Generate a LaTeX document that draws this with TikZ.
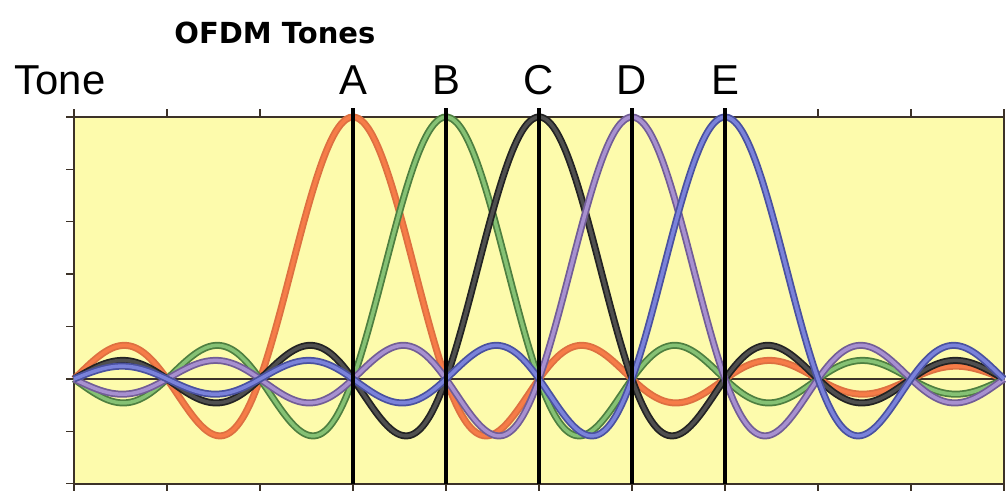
\documentclass[tikz,border=0pt]{standalone}
\usepackage{fontspec}
\setmainfont{Liberation Sans}
\newfontfamily\titlefont{DejaVu Sans}
\usepackage{xcolor}
\usetikzlibrary{positioning}

\definecolor{plotbg}{RGB}{253,251,172}
\definecolor{axisgray}{RGB}{60,50,40}
\definecolor{toneorange}{RGB}{246,124,72}
\definecolor{tonegreen}{RGB}{112,182,92}
\definecolor{toneblack}{RGB}{35,35,35}
\definecolor{tonepurple}{RGB}{152,124,200}
\definecolor{toneblue}{RGB}{98,108,212}

\tikzset{
  tonecurve/.style={line width=1pt, double distance=2pt, smooth, samples=200, domain=0:10},
  markerline/.style={line width=2.8pt, black},
  lettertext/.style={font=\fontsize{23.8}{28}\selectfont, inner sep=0pt}
}

\begin{document}
\begin{tikzpicture}[x=1.86cm, y=5.24cm]
    \useasboundingbox (-1.48cm,-2.24cm) rectangle (18.64cm,7.58cm);

    % Sfondo e cornice
    \fill[plotbg] (0,-0.4) rectangle (10.01,1);
    \draw[axisgray, line width=0.9pt] (0,-0.4) rectangle (10,1);
    \draw[axisgray, line width=1.1pt] (0,0) -- (10,0);

    % Tacche
    \foreach \k in {0,...,10} {
        \draw[axisgray, line width=0.8pt] (\k,1) -- (\k,1.03);
        \draw[axisgray, line width=0.8pt] (\k,-0.4) -- (\k,-0.428);
    }
    \foreach \v in {-0.4,-0.2,...,1.0} {
        \draw[axisgray, line width=0.8pt] (0,\v) -- (-0.09,\v);
    }

    % Curve dei toni
    \draw[tonecurve, draw=toneorange!90!black, double=toneorange] plot (\x, {sin(180*(\x-3))/(pi*(\x-3))});
    \draw[tonecurve, draw=tonegreen!70!black, double=tonegreen!85!white] plot (\x, {sin(180*(\x-4))/(pi*(\x-4))});
    \draw[tonecurve, draw=toneblack, double=toneblack!80!white] plot (\x, {sin(180*(\x-5))/(pi*(\x-5))});
    \draw[tonecurve, draw=tonepurple!75!black, double=tonepurple!85!white] plot (\x, {sin(180*(\x-6))/(pi*(\x-6))});
    \draw[tonecurve, draw=toneblue!75!black, double=toneblue!85!white] plot (\x, {sin(180*(\x-7))/(pi*(\x-7))});

    % Linee dei toni
    \foreach \k in {3,...,7} {
        \draw[markerline] (\k,-0.4) -- (\k,1.035);
    }

    % Etichette
    \node[font=\titlefont\bfseries\fontsize{16.5}{20}\selectfont, inner sep=0pt] (title) at (2.16,1.321) {OFDM Tones};
    \node[lettertext] (tonelabel) at (-0.15,1.141) {Tone};
    \node[lettertext] (A) at (3,1.141) {A};
    \node[lettertext] (B) at (4,1.141) {B};
    \node[lettertext] (C) at (5,1.141) {C};
    \node[lettertext] (D) at (6,1.141) {D};
    \node[lettertext] (E) at (7,1.141) {E};
\end{tikzpicture}
\end{document}
